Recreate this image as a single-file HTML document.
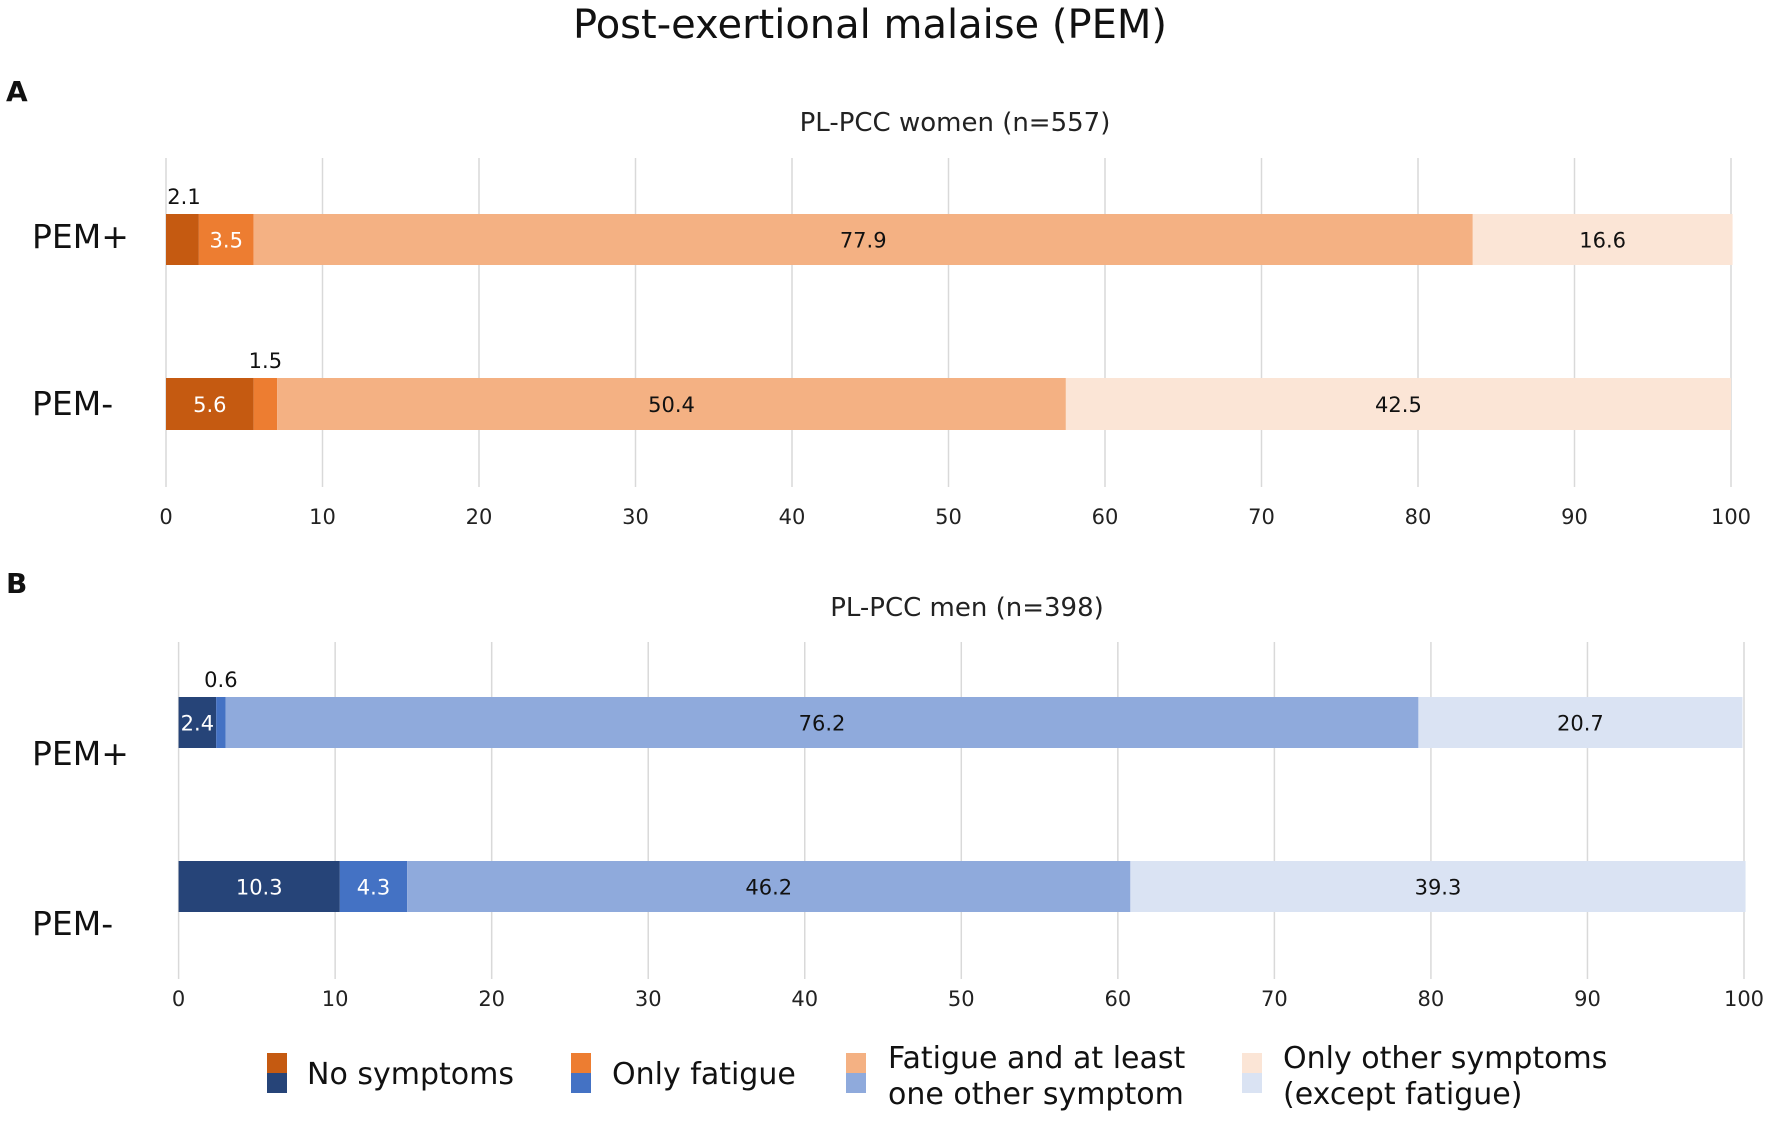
<!DOCTYPE html>
<html><head><meta charset="utf-8"><style>
body{margin:0;background:#fff;}
svg{display:block;font-family:"DejaVu Sans","Liberation Sans",sans-serif;}
</style></head><body>
<svg id="chart" width="1772" height="1125">
<text x="870" y="38" font-size="40" text-anchor="middle" fill="#111">Post-exertional malaise (PEM)</text>
<text x="6" y="101" font-size="28" font-weight="bold" fill="#111">A</text>
<text x="955" y="131" font-size="26" text-anchor="middle" fill="#222">PL-PCC women (n=557)</text>
<text x="6" y="593" font-size="28" font-weight="bold" fill="#111">B</text>
<text x="967" y="616" font-size="26" text-anchor="middle" fill="#222">PL-PCC men (n=398)</text>
<g id="plots"></g>
<g id="legend"></g>
</svg>
<script>
const categories = ["PEM+", "PEM-"];
const seriesNames = ["No symptoms", "Only fatigue", "Fatigue and at least one other symptom", "Only other symptoms (except fatigue)"];
const womenPemPlus = [2.1, 3.5, 77.9, 16.6];
const womenPemMinus = [5.6, 1.5, 50.4, 42.5];
const menPemPlus = [2.4, 0.6, 76.2, 20.7];
const menPemMinus = [10.3, 4.3, 46.2, 39.3];
const xTicks = [0,10,20,30,40,50,60,70,80,90,100];
const orangeColors = ["#C55A11","#ED7D31","#F4B183","#FBE5D6"];
const blueColors = ["#264478","#4472C4","#8FAADC","#DAE3F3"];
const labelColorsFill = ["#fff","#fff","#111","#111"];

const NS = "http://www.w3.org/2000/svg";
function mk(tag, attrs, parent){const e=document.createElementNS(NS,tag);for(const k in attrs)e.setAttribute(k,attrs[k]);parent.appendChild(e);return e;}
const plots = document.getElementById('plots');

const panels = [
 {key:'women', x0:166, x1:1731, gridTop:158, gridBot:487, tickY:524, bars:[[214,265],[378,430]], labelY:[248,415], data:[womenPemPlus,womenPemMinus], colors:orangeColors},
 {key:'men', x0:178.6, x1:1744, gridTop:642, gridBot:979, tickY:1006, bars:[[697,748],[861,912]], labelY:[765,935], data:[menPemPlus,menPemMinus], colors:blueColors}
];

panels.forEach(p=>{
 const g = mk('g',{},plots);
 
 
 const sx = v => p.x0 + (p.x1-p.x0)*v/100;
 xTicks.forEach(t=>{
  const l = mk('line',{x1:sx(t),x2:sx(t),y1:p.gridTop,y2:p.gridBot,stroke:'#d9d9d9','stroke-width':1.5},g);
  
  
  const tx = mk('text',{x:sx(t),y:p.tickY,'font-size':21,'text-anchor':'middle',fill:'#222'},g);
  tx.textContent = t;
  
  
 });
 categories.forEach((c,ci)=>{
  const [y0,y1] = p.bars[ci];
  const vals = p.data[ci];
  const cl = mk('text',{x:32,y:p.labelY[ci],'font-size':33,fill:'#111'},g);
  cl.textContent = c;
  
  
  let acc = 0;
  vals.forEach((v,si)=>{
   const xa = sx(acc), xb = sx(acc+v);
   const r = mk('rect',{x:xa,y:y0,width:Math.max(0,xb-xa),height:y1-y0,fill:p.colors[si]},g);
   
   
   const cx = (xa+xb)/2;
   const small = v < 2.3;
   const t = mk('text',{x: (si===0 && small)?xa+18:cx, y: small? y0-10 : (y0+y1)/2+8,'font-size':21,'text-anchor':'middle',fill: small?'#111':labelColorsFill[si]},g);
   t.textContent = v.toFixed(1);
   
   
   acc += v;
  });
 });
});

const legend = document.getElementById('legend');
const legendItems = [
 {sx:267, tx:307, lines:["No symptoms"]},
 {sx:571, tx:612, lines:["Only fatigue"]},
 {sx:846, tx:888, lines:["Fatigue and at least","one other symptom"]},
 {sx:1242, tx:1283, lines:["Only other symptoms","(except fatigue)"]}
];
legendItems.forEach((it,i)=>{
 const g = mk('g',{},legend);
 
 
 mk('rect',{x:it.sx,y:1053,width:20,height:20,fill:orangeColors[i]},g);
 mk('rect',{x:it.sx,y:1073,width:20,height:20,fill:blueColors[i]},g);
 if(it.lines.length===1){
  const t = mk('text',{x:it.tx,y:1084,'font-size':30,fill:'#111'},g);
  t.textContent = it.lines[0];
 } else {
  it.lines.forEach((ln,li)=>{
   const t = mk('text',{x:it.tx,y:1068+li*36,'font-size':30,fill:'#111'},g);
   t.textContent = ln;
  });
 }
});
</script>
</body></html>
